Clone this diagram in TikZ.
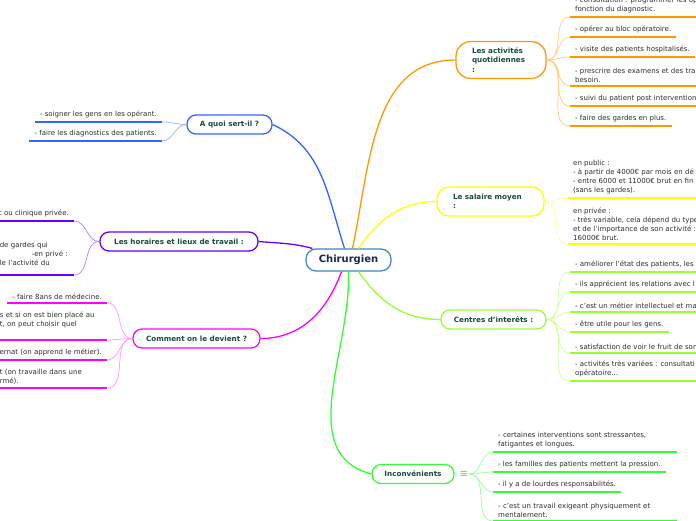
\documentclass[tikz,border=0pt]{standalone}
\usepackage{fontspec}
\setmainfont{DejaVu Sans}
\usepackage{xcolor}
\definecolor{rootblue}{RGB}{61,133,198}
\definecolor{rootink}{RGB}{25,40,80}
\definecolor{topicink}{RGB}{25,75,60}
\definecolor{leafink}{RGB}{45,45,45}
\definecolor{quoiblue}{RGB}{51,102,255}
\definecolor{quoilt}{RGB}{150,178,255}
\definecolor{horpurple}{RGB}{102,0,255}
\definecolor{horlt}{RGB}{178,128,255}
\definecolor{commag}{RGB}{255,0,255}
\definecolor{commlt}{RGB}{255,150,255}
\definecolor{actorange}{RGB}{255,153,0}
\definecolor{actlt}{RGB}{255,204,128}
\definecolor{salyellow}{RGB}{255,255,0}
\definecolor{sallt}{RGB}{255,255,140}
\definecolor{cengreen}{RGB}{153,255,51}
\definecolor{cenlt}{RGB}{204,255,153}
\definecolor{incgreen}{RGB}{51,255,51}
\definecolor{inclt}{RGB}{153,255,153}
\tikzset{
  root/.style={
    draw=rootblue,
    line width=1.2pt,
    rounded corners=10pt,
    fill=white,
    minimum width=85pt,
    minimum height=22pt,
    font=\fontsize{10}{12}\selectfont\bfseries,
    text=rootink
  },
  topic/.style={
    draw,
    line width=1.3pt,
    rounded corners=9pt,
    fill=white,
    minimum height=19pt,
    font=\fontsize{7.2}{9.5}\selectfont\bfseries,
    text=topicink
  },
  topicwide/.style={
    topic,
    inner xsep=16pt,
    align=left
  },
  leafR/.style={
    anchor=south west,
    inner xsep=5pt,
    inner ysep=3.5pt,
    align=left,
    font=\fontsize{7}{9}\selectfont,
    text=leafink
  },
  leafL/.style={
    leafR,
    anchor=south east
  },
  note/.style={font=\fontsize{10}{10}\selectfont, text=topicink, inner sep=1pt},
  limb/.style={line width=1.3pt},
  twig/.style={line width=0.7pt},
  uline/.style={line width=2.2pt}
}

\begin{document}
\begin{tikzpicture}[x=1pt,y=1pt]
  \useasboundingbox (0,0) rectangle (696,-520);

  \node[root] (chir) at (348.5,-260) {Chirurgien};

  \node[topic, draw=quoiblue, minimum width=85pt] (quoi) at (229.5,-124.5) {A quoi sert-il ?};
  \node[topic, draw=horpurple, minimum width=158pt] (hor) at (179,-241.5) {Les horaires et lieux de travail :};
  \node[topic, draw=commag, minimum width=127pt] (comm) at (196.5,-338.5) {Comment on le devient ?};
  \node[topicwide, draw=actorange, text width=58pt, rounded corners=15pt, minimum height=37pt] (act) at (501,-60) {Les activités\\quotidiennes\\:};
  \node[topicwide, draw=salyellow, text width=75pt, rounded corners=12pt, minimum height=29pt] (sal) at (490.5,-201.5) {Le salaire moyen\\:};
  \node[topic, draw=cengreen, minimum width=105pt] (cen) at (493.5,-319.5) {Centres d'interêts :};
  \node[topic, draw=incgreen, minimum width=82pt] (inc) at (413,-474) {Inconvénients};
  \node[note] (incnote) at (464,-474) {$\equiv$};

  % A quoi sert-il
  \node[leafL] (q1) at (162,-122) {- soigner les gens en les opérant.};
  \node[leafL] (q2) at (162,-141) {- faire les diagnostics des patients.};

  % horaires
  \node[leafL] (h1) at (74,-221) {c ou clinique privée.};
  \node[leafL, text width=69pt, inner ysep=9.5pt] (h2) at (74,-275) {de gardes qui\\\hspace*{32pt}-en privé :\\le l'activité du};

  % comment on le devient
  \node[leafL] (m1) at (107,-303) {- faire 8ans de médecine.};
  \node[leafL, text width=102pt, inner ysep=11.5pt] (m2) at (107,-340) {s et si on est bien placé au\\t, on peut choisir quel};
  \node[leafL] (m3) at (107,-360) {ernat (on apprend le métier).};
  \node[leafL, text width=102pt] (m4) at (107,-388) {t (on travaille dans une\\rmé).};

  % activites quotidiennes
  \node[leafR] (a1) at (570,-17) {- consultation : programmer les op\\fonction du diagnostic.};
  \node[leafR] (a2) at (570,-37) {- opérer au bloc opératoire.};
  \node[leafR] (a3) at (570,-57) {- visite des patients hospitalisés.};
  \node[leafR] (a4) at (570,-86) {- prescrire des examens et des tra\\besoin.};
  \node[leafR] (a5) at (570,-106) {- suivi du patient post intervention};
  \node[leafR] (a6) at (570,-126) {- faire des gardes en plus.};

  % salaire
  \node[leafR] (s1) at (568,-198) {en public :\\- à partir de 4000€ par mois en dé\\- entre 6000 et 11000€ brut en fin\\(sans les gardes).};
  \node[leafR] (s2) at (568,-244) {en privée :\\- très variable, cela dépend du type\\et de l'importance de son activité :\\16000€ brut.};

  % centres d'interets
  \node[leafR] (c1) at (570,-272) {- améliorer l'état des patients, les};
  \node[leafR] (c2) at (570,-292) {- ils apprécient les relations avec l};
  \node[leafR] (c3) at (570,-312) {- c'est un métier intellectuel et ma};
  \node[leafR] (c4) at (570,-332) {- être utile pour les gens.};
  \node[leafR] (c5) at (570,-353) {- satisfaction de voir le fruit de son};
  \node[leafR] (c6) at (570,-381) {- activités très variées : consultati\\opératoire...};

  % inconvenients
  \node[leafR, text width=174pt] (i1) at (493,-452) {- certaines interventions sont stressantes,\\fatigantes et longues.};
  \node[leafR] (i2) at (493,-472) {- les familles des patients mettent la pression.};
  \node[leafR] (i3) at (493,-492) {- il y a de lourdes responsabilités.};
  \node[leafR, text width=174pt] (i4) at (493,-521) {- c'est un travail exigeant physiquement et\\mentalement.};

  % main branches
  \draw[limb, draw=quoiblue] ([xshift=-4pt]chir.north) to[out=108,in=-25] (quoi.east);
  \draw[limb, draw=horpurple] ([xshift=7pt]chir.north west) to[out=165,in=-5] (hor.east);
  \draw[limb, draw=commag] ([xshift=-7pt]chir.south) to[out=-110,in=0] (comm.east);
  \draw[limb, draw=actorange] ([xshift=4pt]chir.north) to[out=78,in=180] (act.west);
  \draw[limb, draw=salyellow] ([xshift=10pt]chir.north) to[out=55,in=180] (sal.west);
  \draw[limb, draw=cengreen] ([xshift=10pt]chir.south) to[out=-55,in=180] (cen.west);
  \draw[limb, draw=incgreen] (chir.south) to[out=-88,in=165] (inc.west);

  % twigs
  \draw[twig, draw=quoilt] (quoi.west) to[out=180,in=0] (q1.south east);
  \draw[twig, draw=quoilt] (quoi.west) to[out=180,in=0] (q2.south east);
  \draw[twig, draw=horlt] (hor.west) to[out=180,in=0] (h1.south east);
  \draw[twig, draw=horlt] (hor.west) to[out=180,in=0] (h2.south east);
  \draw[twig, draw=commlt] (comm.west) to[out=180,in=0] (m1.south east);
  \draw[twig, draw=commlt] (comm.west) to[out=180,in=0] (m2.south east);
  \draw[twig, draw=commlt] (comm.west) to[out=180,in=0] (m3.south east);
  \draw[twig, draw=commlt] (comm.west) to[out=180,in=0] (m4.south east);
  \draw[twig, draw=actlt] (act.east) to[out=0,in=180] (a1.south west);
  \draw[twig, draw=actlt] (act.east) to[out=0,in=180] (a2.south west);
  \draw[twig, draw=actlt] (act.east) to[out=0,in=180] (a3.south west);
  \draw[twig, draw=actlt] (act.east) to[out=0,in=180] (a4.south west);
  \draw[twig, draw=actlt] (act.east) to[out=0,in=180] (a5.south west);
  \draw[twig, draw=actlt] (act.east) to[out=0,in=180] (a6.south west);
  \draw[twig, draw=sallt] (sal.east) to[out=0,in=180] (s1.south west);
  \draw[twig, draw=sallt] (sal.east) to[out=0,in=180] (s2.south west);
  \draw[twig, draw=cenlt] (cen.east) to[out=0,in=180] (c1.south west);
  \draw[twig, draw=cenlt] (cen.east) to[out=0,in=180] (c2.south west);
  \draw[twig, draw=cenlt] (cen.east) to[out=0,in=180] (c3.south west);
  \draw[twig, draw=cenlt] (cen.east) to[out=0,in=180] (c4.south west);
  \draw[twig, draw=cenlt] (cen.east) to[out=0,in=180] (c5.south west);
  \draw[twig, draw=cenlt] (cen.east) to[out=0,in=180] (c6.south west);
  \draw[twig, draw=inclt] (incnote.east) to[out=0,in=180] (i1.south west);
  \draw[twig, draw=inclt] (incnote.east) to[out=0,in=180] (i2.south west);
  \draw[twig, draw=inclt] (incnote.east) to[out=0,in=180] (i3.south west);
  \draw[twig, draw=inclt] (incnote.east) to[out=0,in=180] (i4.south west);

  % underlines
  \draw[uline, draw=quoiblue] (q1.south west) -- (q1.south east);
  \draw[uline, draw=quoiblue] (q2.south west) -- (q2.south east);
  \draw[uline, draw=horpurple] (h1.south west) -- (h1.south east);
  \draw[uline, draw=horpurple] (h2.south west) -- (h2.south east);
  \draw[uline, draw=commag] (m1.south west) -- (m1.south east);
  \draw[uline, draw=commag] (m2.south west) -- (m2.south east);
  \draw[uline, draw=commag] (m3.south west) -- (m3.south east);
  \draw[uline, draw=commag] (m4.south west) -- (m4.south east);
  \draw[uline, draw=actorange] (a1.south west) -- (a1.south east);
  \draw[uline, draw=actorange] (a2.south west) -- (a2.south east);
  \draw[uline, draw=actorange] (a3.south west) -- (a3.south east);
  \draw[uline, draw=actorange] (a4.south west) -- (a4.south east);
  \draw[uline, draw=actorange] (a5.south west) -- (a5.south east);
  \draw[uline, draw=actorange] (a6.south west) -- (a6.south east);
  \draw[uline, draw=salyellow] (s1.south west) -- (s1.south east);
  \draw[uline, draw=salyellow] (s2.south west) -- (s2.south east);
  \draw[uline, draw=cengreen] (c1.south west) -- (c1.south east);
  \draw[uline, draw=cengreen] (c2.south west) -- (c2.south east);
  \draw[uline, draw=cengreen] (c3.south west) -- (c3.south east);
  \draw[uline, draw=cengreen] (c4.south west) -- (c4.south east);
  \draw[uline, draw=cengreen] (c5.south west) -- (c5.south east);
  \draw[uline, draw=cengreen] (c6.south west) -- (c6.south east);
  \draw[uline, draw=incgreen] (i1.south west) -- (i1.south east);
  \draw[uline, draw=incgreen] (i2.south west) -- (i2.south east);
  \draw[uline, draw=incgreen] (i3.south west) -- (i3.south east);
  \draw[uline, draw=incgreen] (i4.south west) -- (i4.south east);
\end{tikzpicture}
\end{document}
